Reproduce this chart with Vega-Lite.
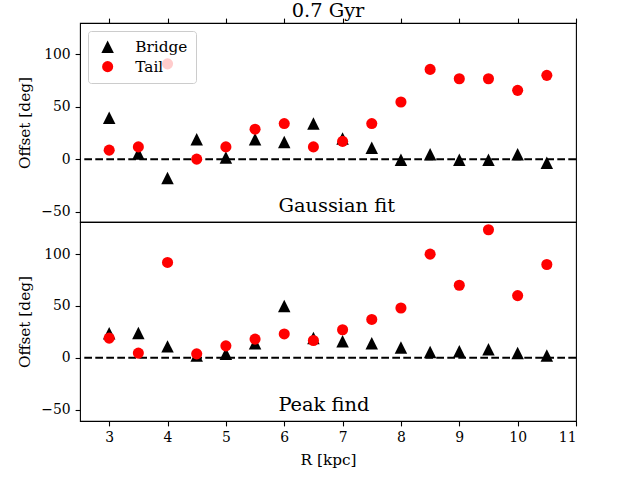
{
  "$schema": "https://vega.github.io/schema/vega-lite/v6.json",
  "description": "Bridge and tail offsets against radius, Gaussian fit and peak find",
  "padding": {"left": 17, "top": 0, "right": 0, "bottom": 0},
  "config": {
    "font": "DejaVu Serif",
    "view": {"stroke": "black", "strokeWidth": 1.1},
    "axis": {
      "grid": false, "domain": false,
      "tickColor": "black", "tickSize": 4.9, "tickWidth": 1.1,
      "labelColor": "black", "labelFont": "DejaVu Serif", "labelFontSize": 13.9, "labelPadding": 4.9,
      "titleColor": "black", "titleFont": "DejaVu Serif", "titleFontSize": 15.3, "titleFontWeight": "normal"
    }
  },
  "datasets": {
    "offsets": [
      {"method": "Gaussian fit", "type": "Bridge", "R": 3, "offset": 39.6},
      {"method": "Gaussian fit", "type": "Bridge", "R": 3.5, "offset": 5.4},
      {"method": "Gaussian fit", "type": "Bridge", "R": 4, "offset": -18},
      {"method": "Gaussian fit", "type": "Bridge", "R": 4.5, "offset": 19},
      {"method": "Gaussian fit", "type": "Bridge", "R": 5, "offset": 1.6},
      {"method": "Gaussian fit", "type": "Bridge", "R": 5.5, "offset": 19},
      {"method": "Gaussian fit", "type": "Bridge", "R": 6, "offset": 16.4},
      {"method": "Gaussian fit", "type": "Bridge", "R": 6.5, "offset": 34},
      {"method": "Gaussian fit", "type": "Bridge", "R": 7, "offset": 19.7},
      {"method": "Gaussian fit", "type": "Bridge", "R": 7.5, "offset": 11},
      {"method": "Gaussian fit", "type": "Bridge", "R": 8, "offset": -0.6},
      {"method": "Gaussian fit", "type": "Bridge", "R": 8.5, "offset": 4.8},
      {"method": "Gaussian fit", "type": "Bridge", "R": 9, "offset": -0.6},
      {"method": "Gaussian fit", "type": "Bridge", "R": 9.5, "offset": -0.6},
      {"method": "Gaussian fit", "type": "Bridge", "R": 10, "offset": 4.8},
      {"method": "Gaussian fit", "type": "Bridge", "R": 10.5, "offset": -3.5},
      {"method": "Gaussian fit", "type": "Tail", "R": 3, "offset": 8.6},
      {"method": "Gaussian fit", "type": "Tail", "R": 3.5, "offset": 11.7},
      {"method": "Gaussian fit", "type": "Tail", "R": 4, "offset": 91},
      {"method": "Gaussian fit", "type": "Tail", "R": 4.5, "offset": 0},
      {"method": "Gaussian fit", "type": "Tail", "R": 5, "offset": 11.7},
      {"method": "Gaussian fit", "type": "Tail", "R": 5.5, "offset": 28.6},
      {"method": "Gaussian fit", "type": "Tail", "R": 6, "offset": 34},
      {"method": "Gaussian fit", "type": "Tail", "R": 6.5, "offset": 11.7},
      {"method": "Gaussian fit", "type": "Tail", "R": 7, "offset": 17},
      {"method": "Gaussian fit", "type": "Tail", "R": 7.5, "offset": 34},
      {"method": "Gaussian fit", "type": "Tail", "R": 8, "offset": 54.6},
      {"method": "Gaussian fit", "type": "Tail", "R": 8.5, "offset": 85.7},
      {"method": "Gaussian fit", "type": "Tail", "R": 9, "offset": 76.8},
      {"method": "Gaussian fit", "type": "Tail", "R": 9.5, "offset": 76.8},
      {"method": "Gaussian fit", "type": "Tail", "R": 10, "offset": 65.7},
      {"method": "Gaussian fit", "type": "Tail", "R": 10.5, "offset": 80},
      {"method": "Peak find", "type": "Bridge", "R": 3, "offset": 23.7},
      {"method": "Peak find", "type": "Bridge", "R": 3.5, "offset": 24},
      {"method": "Peak find", "type": "Bridge", "R": 4, "offset": 11},
      {"method": "Peak find", "type": "Bridge", "R": 4.5, "offset": 2.2},
      {"method": "Peak find", "type": "Bridge", "R": 5, "offset": 3.8},
      {"method": "Peak find", "type": "Bridge", "R": 5.5, "offset": 14},
      {"method": "Peak find", "type": "Bridge", "R": 6, "offset": 50},
      {"method": "Peak find", "type": "Bridge", "R": 6.5, "offset": 19},
      {"method": "Peak find", "type": "Bridge", "R": 7, "offset": 16},
      {"method": "Peak find", "type": "Bridge", "R": 7.5, "offset": 14},
      {"method": "Peak find", "type": "Bridge", "R": 8, "offset": 10},
      {"method": "Peak find", "type": "Bridge", "R": 8.5, "offset": 5.5},
      {"method": "Peak find", "type": "Bridge", "R": 9, "offset": 6.4},
      {"method": "Peak find", "type": "Bridge", "R": 9.5, "offset": 8.3},
      {"method": "Peak find", "type": "Bridge", "R": 10, "offset": 4.5},
      {"method": "Peak find", "type": "Bridge", "R": 10.5, "offset": 2.2},
      {"method": "Peak find", "type": "Tail", "R": 3, "offset": 19},
      {"method": "Peak find", "type": "Tail", "R": 3.5, "offset": 4.5},
      {"method": "Peak find", "type": "Tail", "R": 4, "offset": 92},
      {"method": "Peak find", "type": "Tail", "R": 4.5, "offset": 3.8},
      {"method": "Peak find", "type": "Tail", "R": 5, "offset": 11.5},
      {"method": "Peak find", "type": "Tail", "R": 5.5, "offset": 18},
      {"method": "Peak find", "type": "Tail", "R": 6, "offset": 23},
      {"method": "Peak find", "type": "Tail", "R": 6.5, "offset": 16.7},
      {"method": "Peak find", "type": "Tail", "R": 7, "offset": 27},
      {"method": "Peak find", "type": "Tail", "R": 7.5, "offset": 37},
      {"method": "Peak find", "type": "Tail", "R": 8, "offset": 48},
      {"method": "Peak find", "type": "Tail", "R": 8.5, "offset": 100},
      {"method": "Peak find", "type": "Tail", "R": 9, "offset": 70},
      {"method": "Peak find", "type": "Tail", "R": 9.5, "offset": 123.5},
      {"method": "Peak find", "type": "Tail", "R": 10, "offset": 60},
      {"method": "Peak find", "type": "Tail", "R": 10.5, "offset": 90}
    ]
  },
  "spacing": 0,
  "bounds": "flush",
  "vconcat": [
    {
      "width": 496,
      "height": 199,
      "title": {"text": "0.7 Gyr", "font": "DejaVu Serif", "fontSize": 19.4, "fontWeight": "normal", "color": "black", "offset": -4},
      "layer": [
        {
          "data": {"values": [{}]},
          "mark": {"type": "rule", "color": "black", "strokeWidth": 2, "strokeDash": [7.7, 3.3]},
          "encoding": {"y": {"datum": 0}}
        },
        {
          "data": {"name": "offsets"},
          "transform": [{"filter": "datum.method === 'Gaussian fit'"}],
          "mark": {"type": "point", "filled": true, "opacity": 1, "strokeWidth": 0},
          "encoding": {
            "x": {
              "field": "R", "type": "quantitative",
              "scale": {"domain": [2.5, 11], "nice": false, "zero": false},
              "axis": {"orient": "top", "labels": false, "title": null, "values": [3, 4, 5, 6, 7, 8, 9, 10, 11]}
            },
            "y": {
              "field": "offset", "type": "quantitative",
              "scale": {"domain": [-60, 130], "nice": false, "zero": false},
              "axis": {"values": [-50, 0, 50, 100], "title": "Offset [deg]", "titlePadding": 8, "labelFont": "DejaVu Serif", "titleFont": "DejaVu Serif"}
            },
            "color": {
              "field": "type", "type": "nominal",
              "scale": {"domain": ["Bridge", "Tail"], "range": ["#000000", "#ff0000"]},
              "legend": {
                "title": null, "orient": "top-left", "offset": 8,
                "fillColor": "rgba(255,255,255,0.8)", "strokeColor": "#cccccc", "cornerRadius": 3,
                "padding": 8, "labelFont": "DejaVu Serif", "labelFontSize": 15.3, "labelColor": "black",
                "symbolOffset": 4, "labelOffset": 20, "rowPadding": 4
              }
            },
            "shape": {
              "field": "type", "type": "nominal",
              "scale": {"domain": ["Bridge", "Tail"], "range": ["M0,-1L1,1L-1,1Z", "circle"]}
            },
            "size": {
              "field": "type", "type": "nominal",
              "scale": {"domain": ["Bridge", "Tail"], "range": [156, 123]}
            }
          }
        },
        {
          "data": {"values": [{"label": "Gaussian fit"}]},
          "mark": {"type": "text", "align": "left", "baseline": "alphabetic", "font": "DejaVu Serif", "fontSize": 19.4, "color": "black"},
          "encoding": {"x": {"datum": 5.9}, "y": {"datum": -50.5}, "text": {"field": "label"}}
        }
      ]
    },
    {
      "width": 496,
      "height": 199,
      "layer": [
        {
          "data": {"values": [{}]},
          "mark": {"type": "rule", "color": "black", "strokeWidth": 2, "strokeDash": [7.7, 3.3]},
          "encoding": {"y": {"datum": 0}}
        },
        {
          "data": {"name": "offsets"},
          "transform": [{"filter": "datum.method === 'Peak find'"}],
          "mark": {"type": "point", "filled": true, "opacity": 1, "strokeWidth": 0},
          "encoding": {
            "x": {
              "field": "R", "type": "quantitative",
              "scale": {"domain": [2.5, 11], "nice": false, "zero": false},
              "axis": {"values": [3, 4, 5, 6, 7, 8, 9, 10, 11], "format": "d", "title": "R [kpc]", "titlePadding": 8, "labelFont": "DejaVu Serif", "titleFont": "DejaVu Serif"}
            },
            "y": {
              "field": "offset", "type": "quantitative",
              "scale": {"domain": [-61, 131], "nice": false, "zero": false},
              "axis": {"values": [-50, 0, 50, 100], "title": "Offset [deg]", "titlePadding": 8, "labelFont": "DejaVu Serif", "titleFont": "DejaVu Serif"}
            },
            "color": {
              "field": "type", "type": "nominal",
              "scale": {"domain": ["Bridge", "Tail"], "range": ["#000000", "#ff0000"]},
              "legend": null
            },
            "shape": {
              "field": "type", "type": "nominal",
              "scale": {"domain": ["Bridge", "Tail"], "range": ["M0,-1L1,1L-1,1Z", "circle"]},
              "legend": null
            },
            "size": {
              "field": "type", "type": "nominal",
              "scale": {"domain": ["Bridge", "Tail"], "range": [156, 123]},
              "legend": null
            }
          }
        },
        {
          "data": {"values": [{"label": "Peak find"}]},
          "mark": {"type": "text", "align": "left", "baseline": "alphabetic", "font": "DejaVu Serif", "fontSize": 19.4, "color": "black"},
          "encoding": {"x": {"datum": 5.9}, "y": {"datum": -51.4}, "text": {"field": "label"}}
        }
      ]
    }
  ],
  "resolve": {
    "scale": {"x": "independent", "y": "independent", "color": "independent", "shape": "independent", "size": "independent"}
  }
}
